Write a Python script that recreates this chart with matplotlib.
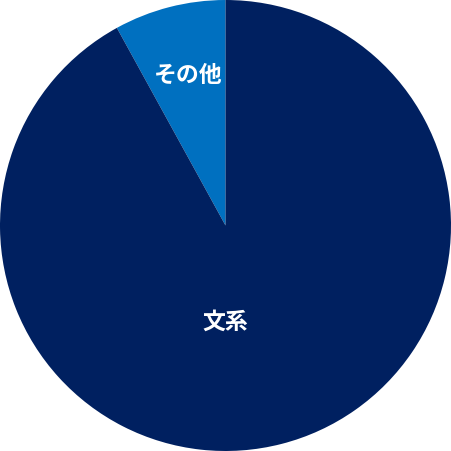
import matplotlib.pyplot as plt

plt.rcParams['font.family'] = ['Noto Sans CJK JP', 'DejaVu Sans']

labels = ['その他', '文系']
shares = [8, 92]
colors = ['#0070c0', '#002060']

fig = plt.figure(figsize=(4.51, 4.51), dpi=100)
ax = fig.add_axes([0, 0, 1, 1])
wedges, _ = ax.pie(shares, colors=colors, startangle=90, counterclock=True,
                   radius=1.0, wedgeprops=dict(linewidth=0))
ax.set_xlim(-1, 1)
ax.set_ylim(-1, 1)
ax.set_aspect('equal')
ax.axis('off')

# label spots as placed in the original
ax.text(-0.165, 0.665, labels[0], color='white', fontsize=16.5, fontweight='bold',
        ha='center', va='center')
ax.text(0.0, -0.43, labels[1], color='white', fontsize=16.5, fontweight='bold',
        ha='center', va='center')

fig.savefig('out.png', dpi=100)
